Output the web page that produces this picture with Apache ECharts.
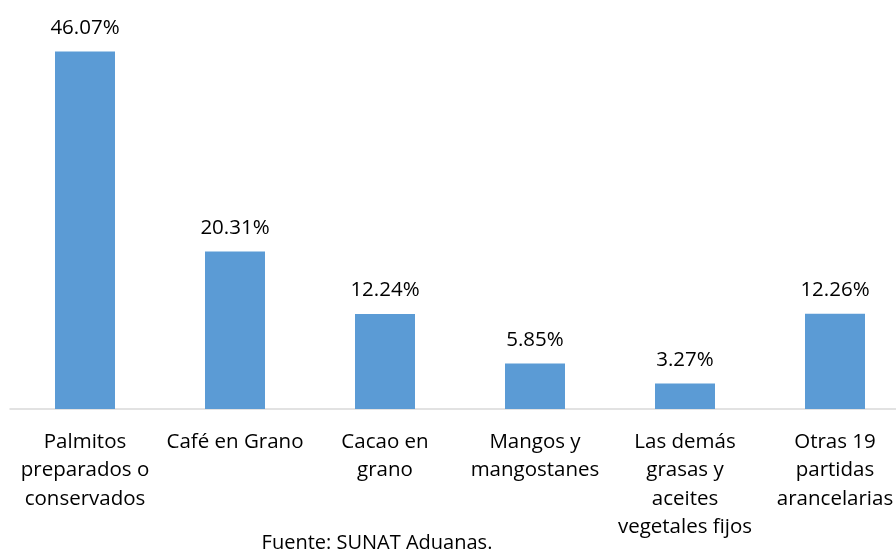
<!DOCTYPE html>
<html>
<head>
<meta charset="utf-8">
<script src="https://cdn.jsdelivr.net/npm/echarts@6/dist/echarts.min.js"></script>
<style>
  html, body { margin: 0; padding: 0; background: #fff; }
  #chart { width: 896px; height: 553px; }
</style>
</head>
<body>
<div id="chart"></div>
<script>
const categories = [
  'Palmitos\npreparados o\nconservados',
  'Café en Grano',
  'Cacao en\ngrano',
  'Mangos y\nmangostanes',
  'Las demás\ngrasas y\naceites\nvegetales fijos',
  'Otras 19\npartidas\narancelarias'
];
const shares = [46.07, 20.31, 12.24, 5.85, 3.27, 12.26];
const source = 'Fuente: SUNAT Aduanas.';

const fontFamily = '"Open Sans", Lato, sans-serif';
const myChart = echarts.init(document.getElementById('chart'));
const option = {
  backgroundColor: '#ffffff',
  animation: false,
  textStyle: { fontFamily: fontFamily },
  title: {
    text: source,
    left: 377,
    textAlign: 'center',
    top: 531,
    padding: 0,
    textStyle: { fontSize: 20, fontWeight: 'normal', color: '#000', fontFamily: fontFamily, lineHeight: 24 }
  },
  // grid wider than the canvas so that categories are 150px apart, like the original
  grid: { left: 10, width: 900, top: 21, bottom: 144, containLabel: false, outerBoundsMode: 'none' },
  xAxis: {
    type: 'category',
    data: categories,
    axisLine: { lineStyle: { color: '#d9d9d9', width: 1.5 } },
    axisTick: { show: false },
    axisLabel: {
      interval: 0,
      margin: 19,
      fontSize: 20.5,
      lineHeight: 28.3,
      color: '#000',
      fontFamily: fontFamily
    }
  },
  yAxis: {
    type: 'value',
    min: 0,
    max: 50,
    show: false,
    splitLine: { show: false }
  },
  series: [
    {
      type: 'bar',
      data: shares,
      barWidth: 60,
      itemStyle: { color: '#5b9bd5' },
      label: {
        show: true,
        position: 'top',
        distance: 13,
        fontSize: 20.5,
        color: '#000',
        fontFamily: fontFamily,
        formatter: function (p) { return p.value.toFixed(2) + '%'; }
      }
    }
  ]
};
myChart.setOption(option);
</script>
</body>
</html>
